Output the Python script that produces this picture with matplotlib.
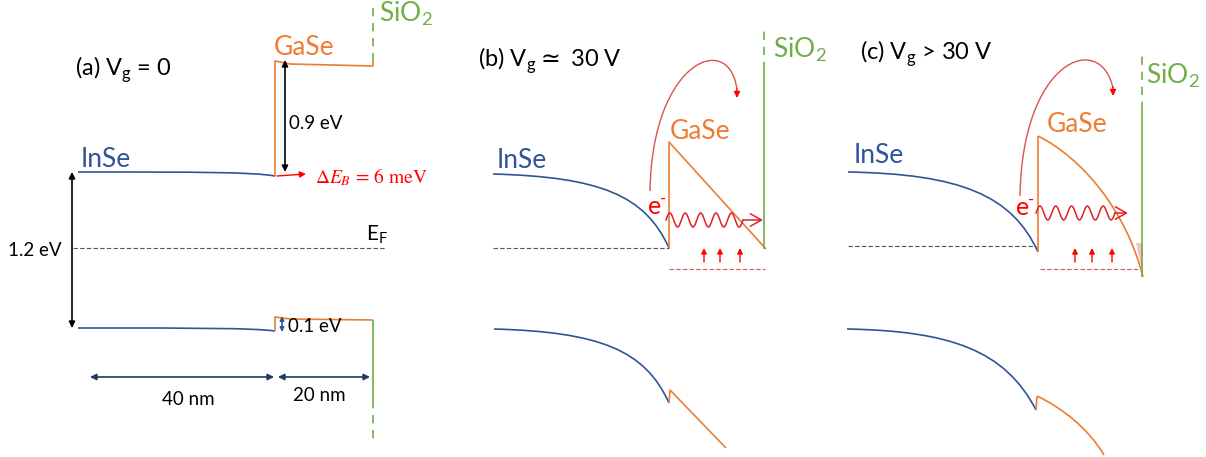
import numpy as np
import matplotlib.pyplot as plt
from matplotlib.path import Path
from matplotlib.patches import PathPatch, Polygon

plt.rcParams['font.family'] = ['Lato', 'DejaVu Sans']

# colours
INSE = '#2F5597'
GASE = '#ED7D31'
SIO2 = '#70AD47'
RED = '#FF0000'
ARC = '#D9534F'

# ---- panel (a): V_g = 0 (pixel coordinates of the schematic) ----
a_inse_cb = [(78, 172), (200, 172), (252, 172), (275, 176)]
a_inse_vb = [(78, 328), (200, 328), (252, 328), (275, 331)]
a_gase_cb = [(275, 176), (275, 61), (290, 64), (373, 66), (373, 60)]
a_gase_vb = [(275, 331), (275, 317), (290, 319), (373, 320)]
a_sio2_solid = [(373, 320), (373, 400)]
a_sio2_dash = [(373, 400), (373, 442)]
a_sio2_top = [(373, 8), (373, 60)]
a_ef = [(73, 248), (385, 248)]

# ---- panel (b): V_g ~ 30 V ----
b_inse_cb = [(493, 174), (600, 177), (645, 195), (669, 248)]
b_inse_vb = [(494, 329), (600, 332), (645, 350), (669, 403)]
b_gase_cb = [(669, 248), (669, 142), (766, 249)]
b_gase_vb = [(669, 403), (670, 390), (726, 448)]
b_sio2 = [(764, 249), (764, 70)]
b_sio2_dash = [(764, 70), (764, 30)]
b_ef = [(493, 248), (669, 248)]
b_trap = [(669, 269), (765, 269)]
b_arc = [(650, 191), (652, 60), (730, 30), (737, 90)]
b_wave = (666, 743, 220)
b_up = [704, 720, 740]

# ---- panel (c): V_g > 30 V ----
c_inse_cb = [(848, 172), (960, 174), (1012, 195), (1038, 252)]
c_inse_vb = [(847, 329), (950, 331), (1005, 350), (1036, 410)]
c_gase_cb = [(1038, 136), (1082, 158), (1126, 210), (1143, 277)]
c_gase_vb = [(1037, 396), (1062, 408), (1088, 428), (1104, 455)]
c_sio2 = [(1142, 277), (1142, 110)]
c_sio2_dash = [(1142, 110), (1142, 55)]
c_ef = [(848, 246), (1036, 246)]
c_trap = [(1040, 269), (1140, 269)]
c_pink = [(1136, 243), (1143, 243), (1143, 275), (1140, 262)]
c_arc = [(1020, 196), (1022, 60), (1100, 30), (1113, 88)]
c_wave = (1036, 1115, 213)
c_up = [1075, 1092, 1112]


def bez(ax, pts, color, lw=1.2):
    verts = list(pts)
    codes = [Path.MOVETO] + [Path.CURVE4] * 3
    ax.add_patch(PathPatch(Path(verts, codes), fc='none', ec=color, lw=lw))


def line(ax, pts, color, lw=1.2, ls='-'):
    x, y = zip(*pts)
    ax.plot(x, y, color=color, lw=lw, ls=ls, solid_capstyle='butt')


def darrow(ax, p0, p1, color='black', ms=9):
    ax.annotate('', xy=p1, xytext=p0,
                arrowprops=dict(arrowstyle='<|-|>', color=color, lw=1.2,
                                mutation_scale=ms, shrinkA=0, shrinkB=0))


def wave(ax, x0, x1, y, tip):
    xs = np.linspace(x0, x1, 200)
    ys = y - 7 * np.sin((xs - x0) / (x1 - x0) * 5 * 2 * np.pi)
    ax.plot(xs, ys, color='#E0202A', lw=1.1)
    ax.annotate('', xy=(tip, y), xytext=(x1, y),
                arrowprops=dict(arrowstyle='->,head_length=0.8,head_width=0.45',
                                color='#E0202A', lw=1.1, shrinkA=0, shrinkB=0))


def arc(ax, pts):
    bez(ax, pts, ARC, lw=1.0)
    x, y = pts[-1]
    ax.annotate('', xy=(x, y + 8), xytext=(x, y - 1),
                arrowprops=dict(arrowstyle='-|>', color=RED, lw=1,
                                mutation_scale=9, shrinkA=0, shrinkB=0))


def ups(ax, xs):
    for x in xs:
        ax.annotate('', xy=(x, 248), xytext=(x, 262),
                    arrowprops=dict(arrowstyle='-|>', color=RED, lw=1,
                                    mutation_scale=8, shrinkA=0, shrinkB=0))


def electron(ax, x, y):
    ax.text(x, y, 'e', color=RED, fontsize=18)
    ax.text(x + 12, y - 10, '-', color=RED, fontsize=12)


fig = plt.figure(figsize=(12.06, 4.57), dpi=100)
ax = fig.add_axes([0, 0, 1, 1])
ax.set_xlim(0, 1206)
ax.set_ylim(457, 0)
ax.axis('off')

sub = dict(fontsize=17, color='black')
big = dict(fontsize=19)

# panel (a)
bez(ax, a_inse_cb, INSE)
bez(ax, a_inse_vb, INSE)
line(ax, a_gase_cb, GASE)
line(ax, a_gase_vb, GASE)
line(ax, a_sio2_solid, SIO2)
line(ax, a_sio2_dash, SIO2, ls=(0, (5, 4)))
line(ax, a_sio2_top, SIO2, ls=(0, (5, 4)))
line(ax, a_ef, '#555555', lw=0.8, ls=(0, (4, 2)))
darrow(ax, (285, 60), (285, 172))
darrow(ax, (72, 172), (72, 328))
darrow(ax, (282, 316), (282, 332), INSE, ms=6)
darrow(ax, (90, 377), (274, 377), '#1F3864')
darrow(ax, (278, 377), (370, 377), '#1F3864')
ax.annotate('', xy=(306, 174), xytext=(277, 176),
            arrowprops=dict(arrowstyle='-|>', color=RED, lw=1,
                            mutation_scale=9, shrinkA=0, shrinkB=0))
ax.text(75, 76, r'(a) V$_\mathregular{g}$ = 0', **sub)
ax.text(81, 167, 'InSe', color=INSE, **big)
ax.text(274, 55, 'GaSe', color=GASE, **big)
ax.text(379, 22, r'SiO$_\mathregular{2}$', color=SIO2, **big)
ax.text(289, 129, '0.9 eV', fontsize=13.5)
ax.text(315, 183, r'$\Delta E_B\,=\,6\ \mathrm{meV}$', fontsize=14, color=RED,
        math_fontfamily='stix')
ax.text(8, 256, '1.2 eV', fontsize=13.5)
ax.text(366, 240, r'E$_\mathregular{F}$', fontsize=15)
ax.text(288, 332, '0.1 eV', fontsize=13.5)
ax.text(162, 405, '40 nm', fontsize=13.5)
ax.text(293, 401, '20 nm', fontsize=13.5)

# panel (b)
bez(ax, b_inse_cb, INSE)
bez(ax, b_inse_vb, INSE)
line(ax, b_gase_cb, GASE)
line(ax, b_gase_vb, GASE)
line(ax, b_sio2, SIO2)
line(ax, b_sio2_dash, SIO2, ls=(0, (5, 4)))
line(ax, b_ef, '#555555', lw=0.8, ls=(0, (4, 2)))
line(ax, b_trap, '#D9534F', lw=0.8, ls=(0, (4, 2)))
arc(ax, b_arc)
wave(ax, b_wave[0], b_wave[1], b_wave[2], 763)
ups(ax, b_up)
ax.text(478, 67, r'(b) V$_\mathregular{g}{\simeq}$ 30 V', **sub)
ax.text(670, 139, 'GaSe', color=GASE, **big)
ax.text(497, 168, 'InSe', color=INSE, **big)
ax.text(773, 57, r'SiO$_\mathregular{2}$', color=SIO2, **big)
electron(ax, 648, 214)

# panel (c)
bez(ax, c_inse_cb, INSE)
bez(ax, c_inse_vb, INSE)
line(ax, [(1038, 252), (1038, 136)], GASE)
bez(ax, c_gase_cb, GASE)
line(ax, [(1036, 410), (1037, 396)], GASE)
bez(ax, c_gase_vb, GASE)
ax.add_patch(Polygon(c_pink, closed=True, fc='#F8C0C8', ec='none'))
line(ax, c_sio2, SIO2)
line(ax, c_sio2_dash, SIO2, ls=(0, (5, 4)))
line(ax, c_ef, '#555555', lw=0.8, ls=(0, (4, 2)))
line(ax, c_trap, '#D9534F', lw=0.8, ls=(0, (4, 2)))
arc(ax, c_arc)
wave(ax, c_wave[0], c_wave[1], c_wave[2], 1128)
ups(ax, c_up)
ax.text(860, 60, r'(c) V$_\mathregular{g}$ > 30 V', **sub)
ax.text(1047, 132, 'GaSe', color=GASE, **big)
ax.text(854, 163, 'InSe', color=INSE, **big)
ax.text(1146, 83, r'SiO$_\mathregular{2}$', color=SIO2, **big)
electron(ax, 1016, 215)

plt.savefig('out.png', dpi=100)
